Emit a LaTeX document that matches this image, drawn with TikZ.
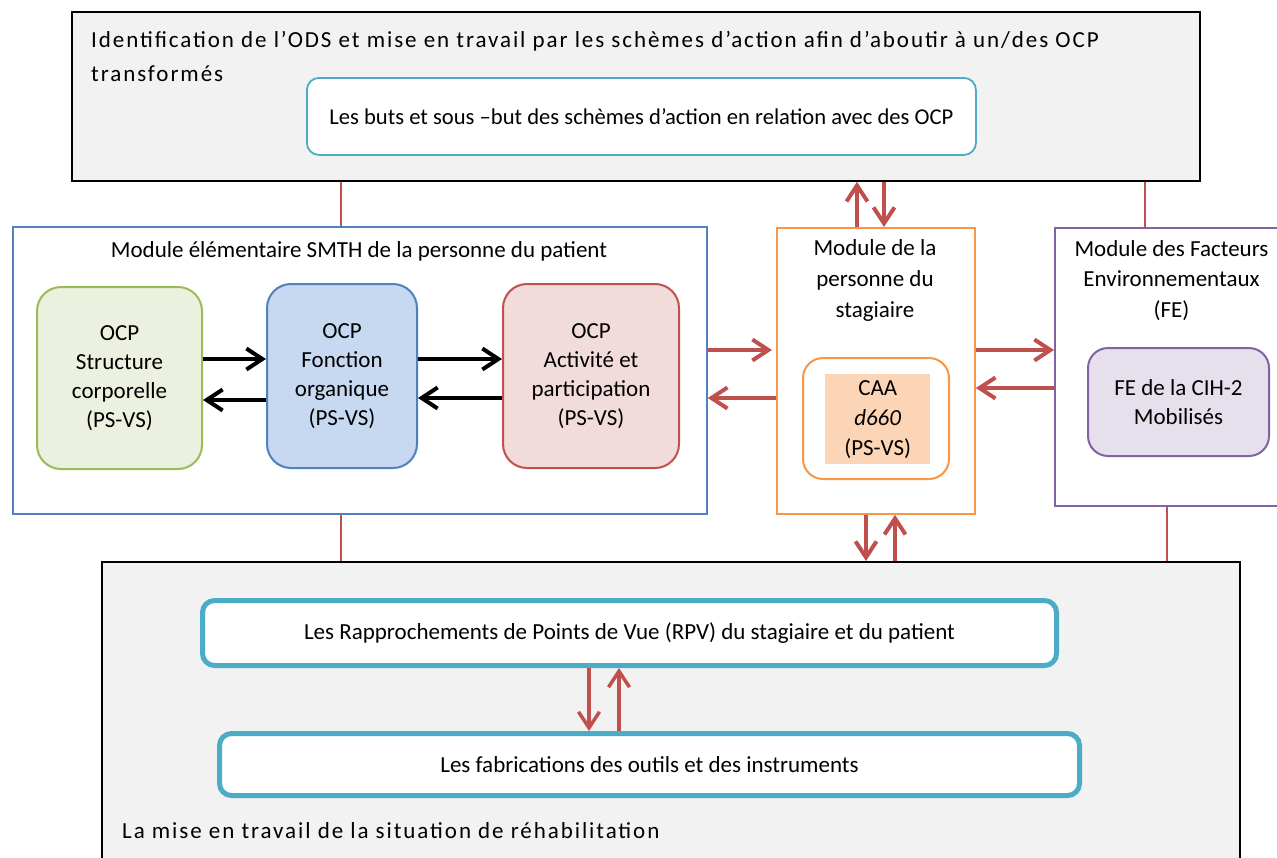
\documentclass[tikz,border=0pt]{standalone}
\usepackage{fontspec}
\setmainfont{Carlito}
\usetikzlibrary{arrows.meta}
\definecolor{redc}{HTML}{C0504D}
\definecolor{bluec}{HTML}{4F81BD}
\definecolor{greenc}{HTML}{9BBB59}
\definecolor{greenf}{HTML}{EBF1DE}
\definecolor{bluef}{HTML}{C6D9F1}
\definecolor{redf}{HTML}{F2DCDB}
\definecolor{orangec}{HTML}{F79646}
\definecolor{peach}{HTML}{FBD5B5}
\definecolor{purplec}{HTML}{8064A2}
\definecolor{purplef}{HTML}{E5E0EC}
\definecolor{aquac}{HTML}{4BACC6}
\definecolor{greyf}{HTML}{F2F2F2}
\tikzset{
  txt/.style={font=\fontsize{23}{29}\selectfont, inner sep=0pt},
  bigtxt/.style={font=\fontsize{23}{34}\selectfont\addfontfeature{LetterSpace=8.4}, inner sep=0pt},
  framebox/.style={draw=black, line width=1.8pt, fill=greyf, anchor=north west, inner sep=0pt},
  modbox/.style={draw=#1, line width=1.8pt, fill=white, anchor=north west, inner sep=0pt},
  ocpbox/.style 2 args={draw=#1, fill=#2, line width=2pt, rounded corners=24pt, anchor=north west,
     align=center, inner sep=0pt, font=\fontsize{23}{29}\selectfont},
  aquabox/.style={draw=aquac, fill=white, anchor=north west, rounded corners=12pt,
     align=center, inner sep=0pt, font=\fontsize{23}{29}\selectfont},
  redarrow/.style={draw=redc, line width=4pt, -{Straight Barb[length=16pt,width=21pt]}},
  blackarrow/.style={draw=black, line width=4pt, -{Straight Barb[length=16pt,width=21pt]}},
  thinred/.style={draw=redc, line width=1.5pt},
}
\begin{document}
\begin{tikzpicture}[x=1pt,y=-1pt]
\useasboundingbox (0,0) rectangle (1277,857);
\clip (0,0) rectangle (1277,857);
\fill[white] (0,0) rectangle (1277,857);

% frames
\node[framebox, minimum width=1128pt, minimum height=169pt] (top) at (71,11) {};
\node[framebox, minimum width=1138pt, minimum height=320pt] (bot) at (101,561) {};

\node[bigtxt, anchor=base west] (top1) at (91,47) {Identification de l’ODS et mise en travail par les schèmes d’action afin d’aboutir à un/des OCP};
\node[bigtxt, anchor=base west] (top2) at (91,81) {transformés};
\node[aquabox, line width=1.8pt, minimum width=669pt, minimum height=77pt, font=\fontsize{22.6}{29}\selectfont] (buts) at (306,77)
  {Les buts et sous –but des schèmes d’action en relation avec des OCP};

\node[bigtxt, anchor=base west] (bottxt) at (122,838) {La mise en travail de la situation de réhabilitation};
\node[aquabox, line width=5pt, minimum width=854pt, minimum height=65pt] (rpv) at (200,598)
  {Les Rapprochements de Points de Vue (RPV) du stagiaire et du patient};
\node[aquabox, line width=5pt, minimum width=860pt, minimum height=62pt] (fab) at (217,731)
  {Les fabrications des outils et des instruments};

% modules
\node[modbox=bluec, minimum width=694pt, minimum height=287pt] (modl) at (12,226) {};
\node[txt, anchor=base] (modlt) at (359,257) {Module élémentaire SMTH de la personne du patient};

\node[ocpbox={greenc}{greenf}, minimum width=165pt, minimum height=182pt] (ocps) at (36,286)
  {OCP\\Structure\\corporelle\\(PS-VS)};
\node[ocpbox={bluec}{bluef}, minimum width=150pt, minimum height=184pt] (ocpf) at (266,283)
  {OCP\\Fonction\\organique\\(PS-VS)};
\node[ocpbox={redc}{redf}, minimum width=176pt, minimum height=184pt] (ocpa) at (502,283)
  {OCP\\Activité et\\participation\\(PS-VS)};

\node[modbox=orangec, minimum width=198pt, minimum height=286pt] (modo) at (776,227) {};
\node[txt, anchor=base] (modot1) at (875,255) {Module de la};
\node[txt, anchor=base] (modot2) at (875,286) {personne du};
\node[txt, anchor=base] (modot3) at (875,317) {stagiaire};
\node[draw=orangec, line width=2pt, fill=white, rounded corners=20pt, anchor=north west,
  minimum width=146pt, minimum height=121pt, inner sep=0pt] (caab) at (802,357) {};
\node[fill=peach, anchor=north west, minimum width=105pt, minimum height=90pt, inner sep=0pt,
  align=center, font=\fontsize{23}{30}\selectfont] (caa) at (825,374) {CAA\\\textit{d660}\\(PS-VS)};

\node[modbox=purplec, minimum width=235pt, minimum height=278pt] (modfe) at (1054,227) {};
\node[txt, anchor=base] (modfet1) at (1171.5,256) {Module des Facteurs};
\node[txt, anchor=base] (modfet2) at (1171.5,286) {Environnementaux};
\node[txt, anchor=base] (modfet3) at (1171.5,317) {(FE)};
\node[ocpbox={purplec}{purplef}, rounded corners=20pt, minimum width=181pt, minimum height=108pt] (fe) at (1087,347)
  {FE de la CIH-2\\Mobilisés};

% helper coordinates
\coordinate (xa) at (341,0);
\coordinate (xb) at (1145,0);
\coordinate (xc) at (1167,0);
\coordinate (xup) at (857,0);
\coordinate (xdn) at (884,0);
\coordinate (xdn2) at (866,0);
\coordinate (xup2) at (895,0);
\coordinate (xdn3) at (589,0);
\coordinate (xup3) at (619,0);
\coordinate (ya) at (0,359);
\coordinate (yb) at (0,400);
\coordinate (yc) at (0,398);
\coordinate (yd) at (0,350);
\coordinate (ye) at (0,388);

% thin connectors
\draw[thinred] (top.south -| xa) -- (modl.north -| xa);
\draw[thinred] (top.south -| xb) -- (modfe.north -| xb);
\draw[thinred] (modl.south -| xa) -- (bot.north -| xa);
\draw[thinred] (modfe.south -| xc) -- (bot.north -| xc);

% black arrows
\draw[blackarrow] (ocps.east |- ya) -- (ocpf.west |- ya);
\draw[blackarrow] (ocpf.west |- yb) -- (ocps.east |- yb);
\draw[blackarrow] (ocpf.east |- ya) -- (ocpa.west |- ya);
\draw[blackarrow] (ocpa.west |- yc) -- (ocpf.east |- yc);

% red arrows
\draw[redarrow] (modl.east |- yd) -- ([xshift=-4pt]modo.west |- yd);
\draw[redarrow] (modo.west |- yc) -- (modl.east |- yc);
\draw[redarrow] (modo.east |- yd) -- (modfe.west |- yd);
\draw[redarrow] (modfe.west |- ye) -- (modo.east |- ye);
\draw[redarrow] (modo.north -| xup) -- (top.south -| xup);
\draw[redarrow] (top.south -| xdn) -- (modo.north -| xdn);
\draw[redarrow] (modo.south -| xdn2) -- (bot.north -| xdn2);
\draw[redarrow] (bot.north -| xup2) -- (modo.south -| xup2);
\draw[redarrow, line width=3.5pt] (rpv.south -| xdn3) -- (fab.north -| xdn3);
\draw[redarrow, line width=3.5pt] (fab.north -| xup3) -- (rpv.south -| xup3);
\end{tikzpicture}
\end{document}
